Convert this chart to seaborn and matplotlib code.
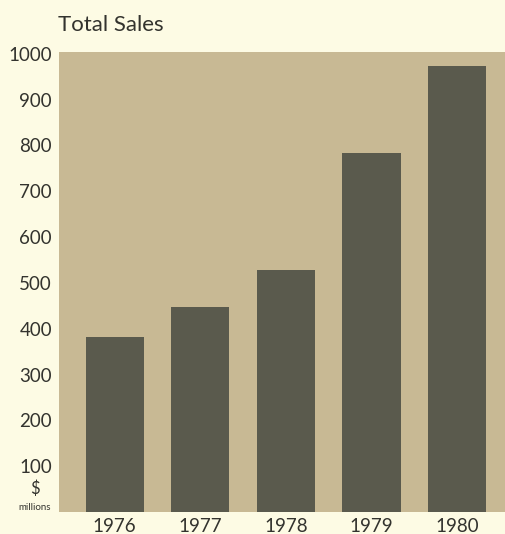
import matplotlib
matplotlib.use("Agg")
import matplotlib.pyplot as plt
import seaborn as sns
import pandas as pd

years = ["1976", "1977", "1978", "1979", "1980"]
sales = [383, 448, 528, 784, 974]
yticks = [100, 200, 300, 400, 500, 600, 700, 800, 900, 1000]
title = "Total Sales"

sns.set_style("white")
plt.rcParams["font.family"] = ["Lato", "DejaVu Sans"]

fig_bg = "#FDFBE4"
ax_bg = "#C8B994"
bar_c = "#5A5A4D"
txt_c = "#33332E"

fig = plt.figure(figsize=(5.06, 5.34), dpi=100, facecolor=fig_bg)
ax = fig.add_axes([59/506, 22/534, 1 - 59/506, (512-52)/534])
ax.set_facecolor(ax_bg)

df = pd.DataFrame({"year": years, "sales": sales})
sns.barplot(data=df, x="year", y="sales", color=bar_c, saturation=1,
            width=0.68, ax=ax, edgecolor="none")

ax.set_xlim(-0.65, 4.57)
ax.set_ylim(0, 1004)
ax.set_yticks(yticks)
ax.set_yticklabels([str(t) for t in yticks], fontsize=13.5, color=txt_c)
ax.tick_params(axis="y", length=0, pad=5)
ax.tick_params(axis="x", length=0, pad=4, labelsize=13.5, labelcolor=txt_c)
ax.set_xlabel("")
ax.set_ylabel("")
for s in ax.spines.values():
    s.set_visible(False)

fig.text(35/506, 1 - 489/534, "$", ha="center", va="center", fontsize=12, color=txt_c)
fig.text(35/506, 1 - 507/534, "millions", ha="center", va="center", fontsize=7, color=txt_c)
fig.text(58/506, 1 - 31/534, title, ha="left", va="baseline", fontsize=16, color=txt_c)

fig.savefig("out.png", dpi=100, facecolor=fig_bg)
